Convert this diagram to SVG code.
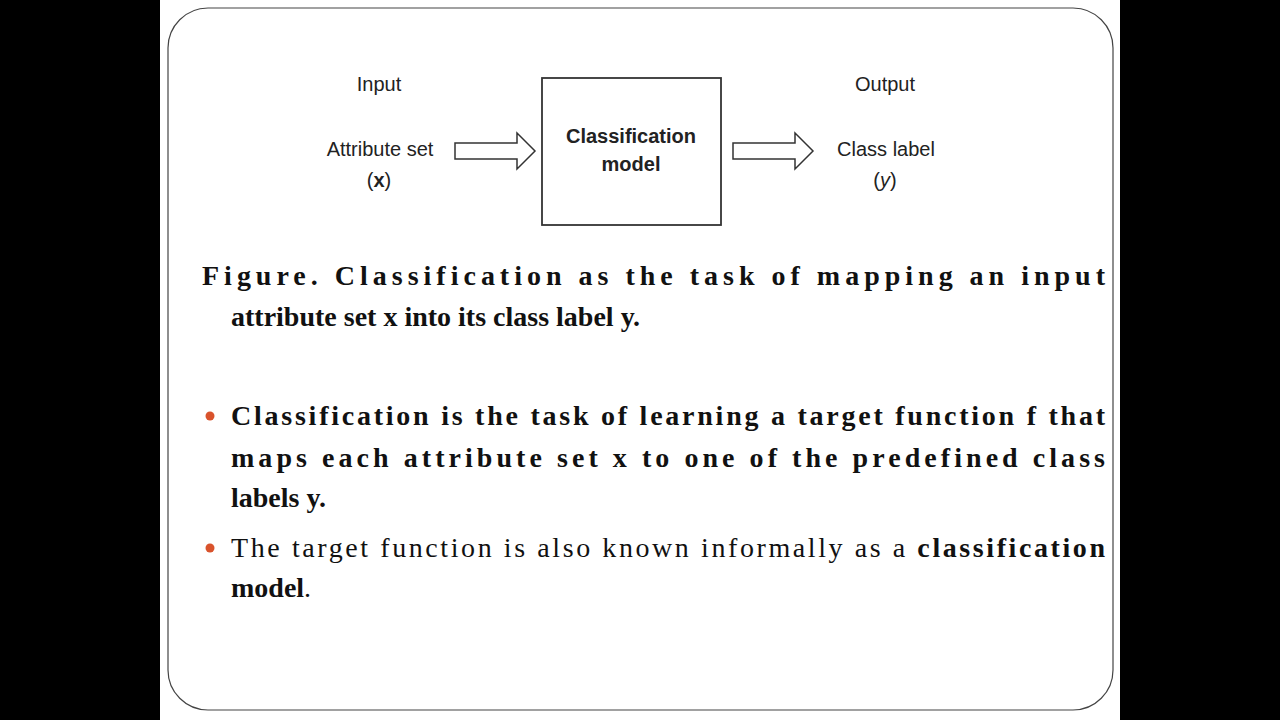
<svg xmlns="http://www.w3.org/2000/svg" width="1280" height="720" viewBox="0 0 1280 720">
<style>
.s{font-family:"Liberation Sans",Arial,sans-serif;font-size:20px;fill:#222;text-anchor:middle}
.b{font-weight:bold}
.t{font-family:"Liberation Serif","Times New Roman",serif;font-size:28px;fill:#111}
.arrow{fill:#fff;stroke:#333;stroke-width:1.5}
</style>
<rect width="1280" height="720" fill="#000"/>
<rect x="160" y="0" width="960" height="720" fill="#fff"/>
<rect x="168" y="8" width="945" height="702" rx="40" fill="#fff" stroke="#444" stroke-width="1.2"/>
<g id="input"><text class="s" x="379" y="91">Input</text><text class="s" x="380" y="156">Attribute set</text><text class="s" x="379" y="187">(<tspan class="b">x</tspan>)</text></g>
<g id="model"><rect x="542" y="78" width="179" height="147" fill="#fff" stroke="#333" stroke-width="1.8"/><text class="s b" x="631" y="143">Classification</text><text class="s b" x="631" y="171">model</text></g>
<g id="output"><text class="s" x="885" y="91">Output</text><text class="s" x="886" y="156">Class label</text><text class="s" x="885" y="187">(<tspan font-style="italic">y</tspan>)</text></g>
<g id="connectors">
<polygon class="arrow" points="455,143 517,143 517,133 535,151 517,169 517,159 455,159"/>
<polygon class="arrow" points="733,143 795,143 795,133 813,151 795,169 795,159 733,159"/>
</g>
<g class="t">
<text x="202" y="285" font-weight="bold" textLength="903" lengthAdjust="spacing">Figure. Classification as the task of mapping an input</text>
<text x="231" y="326" font-weight="bold">attribute set x into its class label y.</text>
<circle cx="210" cy="416" r="4.5" fill="#d9532c"/>
<text x="231" y="425" font-weight="bold" textLength="874" lengthAdjust="spacing">Classification is the task of learning a target function f that</text>
<text x="231" y="467" font-weight="bold" textLength="874" lengthAdjust="spacing">maps each attribute set x to one of the predefined class</text>
<text x="231" y="507" font-weight="bold">labels y.</text>
<circle cx="210" cy="548" r="4.5" fill="#d9532c"/>
<text x="231" y="557" textLength="874" lengthAdjust="spacing">The target function is also known informally as a <tspan font-weight="bold">classification</tspan></text>
<text x="231" y="597"><tspan font-weight="bold">model</tspan>.</text>
</g>
</svg>
